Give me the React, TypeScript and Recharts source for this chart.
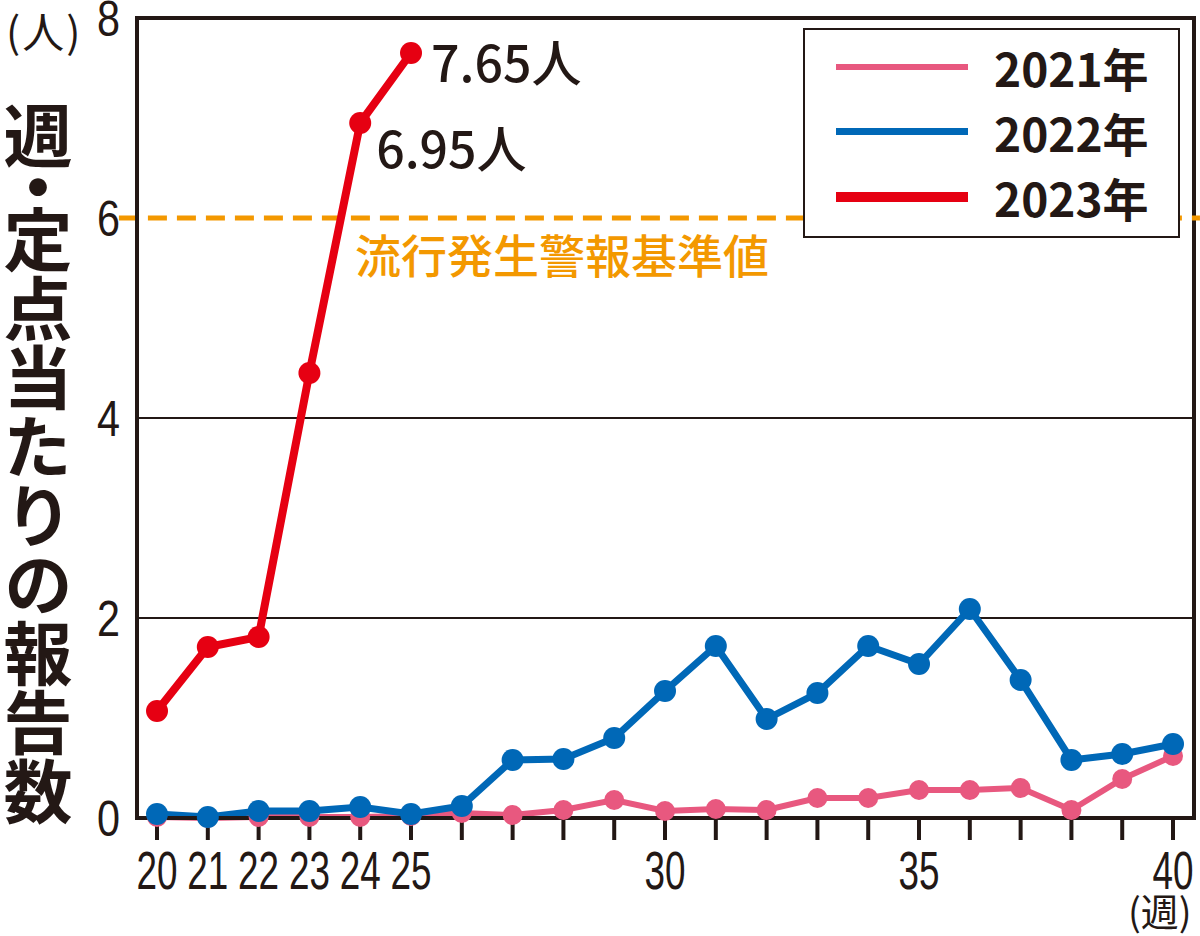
import {
  Line,
  LineChart,
  LabelList,
  ReferenceArea,
  ReferenceLine,
  XAxis,
  YAxis,
} from "recharts";

const weeks = [20, 21, 22, 23, 24, 25, 26, 27, 28, 29, 30, 31, 32, 33, 34, 35, 36, 37, 38, 39, 40];
const cases2021 = [0.01, 0, 0.01, 0.01, 0.01, 0.02, 0.05, 0.03, 0.08, 0.18, 0.07, 0.09, 0.08, 0.2, 0.2, 0.28, 0.28, 0.3, 0.08, 0.39, 0.62];
const cases2022 = [0.04, 0.01, 0.07, 0.07, 0.11, 0.04, 0.12, 0.58, 0.59, 0.8, 1.27, 1.72, 0.99, 1.25, 1.72, 1.54, 2.09, 1.38, 0.58, 0.64, 0.74];
const cases2023 = [1.07, 1.71, 1.81, 4.45, 6.95, 7.65];
const labeledWeeks = [20, 21, 22, 23, 24, 25, 30, 35, 40];
const yTicks = [0, 2, 4, 6, 8];
const alertLevel = 6;

const INK = "#231815";
const PINK = "#e8587f";
const BLUE = "#0068b7";
const RED = "#e60012";
const ORANGE = "#f39800";
const SANS = "'Liberation Sans', Arial, sans-serif";
const JP = "'Noto Sans CJK JP', sans-serif";

const data = weeks.map((w, i) => ({
  week: w,
  y2021: cases2021[i],
  y2022: cases2022[i],
  y2023: i < cases2023.length ? cases2023[i] : null,
}));

const X_DOMAIN: [number, number] = [19.606, 40.413];

const legendItems = [
  { label: "2021年", color: PINK, width: 6 },
  { label: "2022年", color: BLUE, width: 7 },
  { label: "2023年", color: RED, width: 10 },
];

// digits in the reference are very condensed, so squeeze them with textLength
function XTick({ x, y, payload }: any) {
  if (!labeledWeeks.includes(payload.value)) return null;
  const s = String(payload.value);
  return (
    <text
      x={x}
      y={y}
      dy={47}
      textAnchor="middle"
      fontSize={54}
      fontFamily={SANS}
      fill={INK}
      textLength={s.length * 20.5}
      lengthAdjust="spacingAndGlyphs"
    >
      {s}
    </text>
  );
}

function YTick({ x, y, payload }: any) {
  return (
    <text
      x={x}
      y={y}
      dy={18}
      textAnchor="end"
      fontSize={50}
      fontFamily={SANS}
      fill={INK}
      textLength={23}
      lengthAdjust="spacingAndGlyphs"
    >
      {payload.value}
    </text>
  );
}

function RedLabel({ x, y, index, value }: any) {
  if (index !== 4 && index !== 5) return null;
  const dx = index === 4 ? 16 : 20;
  const dy = index === 4 ? 45 : 29;
  return (
    <text x={x + dx} y={y + dy} fontSize={50} fontFamily={JP} fontWeight={500} fill={INK}>
      {value}人
    </text>
  );
}

export default function App() {
  return (
    <div style={{ position: "absolute", left: 0, top: 0, width: 1200, height: 936, background: "#fff" }}>
      <LineChart width={1200} height={936} data={data} margin={{ top: 18, right: 6, bottom: 0, left: 0 }}>
        <XAxis
          type="number"
          dataKey="week"
          domain={X_DOMAIN}
          ticks={weeks}
          interval={0}
          tickSize={22}
          tickLine={{ stroke: INK, strokeWidth: 4 }}
          axisLine={{ stroke: INK, strokeWidth: 4 }}
          tick={<XTick />}
          height={118}
        />
        <YAxis
          type="number"
          domain={[0, 8]}
          ticks={yTicks}
          width={137}
          tickSize={0}
          tickMargin={17}
          tickLine={false}
          axisLine={{ stroke: INK, strokeWidth: 4 }}
          tick={<YTick />}
        />
        <ReferenceArea
          x1={X_DOMAIN[0]}
          x2={X_DOMAIN[1]}
          y1={0}
          y2={8}
          fill="none"
          fillOpacity={0}
          stroke={INK}
          strokeWidth={4}
          ifOverflow="visible"
        />
        <ReferenceLine y={2} stroke={INK} strokeWidth={2} />
        <ReferenceLine y={4} stroke={INK} strokeWidth={2} />
        <ReferenceLine
          segment={[
            { x: 19.25, y: alertLevel },
            { x: 40.53, y: alertLevel },
          ]}
          stroke={ORANGE}
          strokeWidth={5}
          strokeDasharray="19 10"
          ifOverflow="visible"
        />
        <Line
          dataKey="y2021"
          stroke={PINK}
          strokeWidth={6}
          dot={{ r: 10, fill: PINK, stroke: "none" }}
          isAnimationActive={false}
        />
        <Line
          dataKey="y2022"
          stroke={BLUE}
          strokeWidth={7}
          dot={{ r: 11, fill: BLUE, stroke: "none" }}
          isAnimationActive={false}
        />
        <Line
          dataKey="y2023"
          stroke={RED}
          strokeWidth={8}
          dot={{ r: 11, fill: RED, stroke: "none" }}
          isAnimationActive={false}
        >
          <LabelList dataKey="y2023" content={<RedLabel />} />
        </Line>
      </LineChart>

      {/* legend box */}
      <div
        style={{
          position: "absolute",
          left: 803,
          top: 28,
          width: 377,
          height: 210,
          border: `2px solid ${INK}`,
          background: "#fff",
          boxSizing: "border-box",
          paddingTop: 4,
        }}
      >
        {legendItems.map((it) => (
          <div key={it.label} style={{ display: "flex", alignItems: "center", height: 65 }}>
            <div style={{ marginLeft: 31, width: 132, height: it.width, background: it.color }} />
            <div style={{ marginLeft: 26, fontSize: 46, fontWeight: 700, fontFamily: JP, color: INK, lineHeight: 1 }}>
              {it.label}
            </div>
          </div>
        ))}
      </div>

      <div
        style={{
          position: "absolute",
          left: 6,
          top: 9,
          fontSize: 42,
          fontFamily: JP,
          color: INK,
          lineHeight: 1,
          letterSpacing: 2,
        }}
      >
        (人)
      </div>
      <div
        style={{
          position: "absolute",
          left: 3,
          top: 101,
          writingMode: "vertical-rl",
          fontSize: 69,
          fontWeight: 700,
          fontFamily: JP,
          color: INK,
          lineHeight: 1,
        }}
      >
        週<span style={{ marginInlineStart: -17, marginInlineEnd: -17 }}>・</span>定点当たりの報告数
      </div>
      <div
        style={{
          position: "absolute",
          left: 355,
          top: 230,
          fontSize: 46,
          fontWeight: 500,
          fontFamily: JP,
          color: ORANGE,
          lineHeight: 1,
        }}
      >
        流行発生警報基準値
      </div>
      <div style={{ position: "absolute", left: 1128, top: 891, fontSize: 38, fontFamily: JP, color: INK, lineHeight: 1 }}>
        (週)
      </div>
    </div>
  );
}
